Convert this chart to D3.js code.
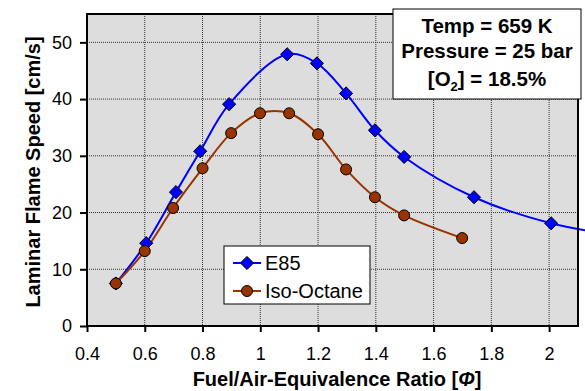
<!DOCTYPE html>
<html>
<head>
<meta charset="utf-8">
<script src="https://cdn.jsdelivr.net/npm/d3@7"></script>
<style>
  body { margin: 0; background: #fff; }
  svg text { font-family: Arial, "Liberation Sans", sans-serif; }
</style>
</head>
<body>
<div id="chart"></div>
<script>
// chart data
const e85Phi    = [0.5, 0.605, 0.708, 0.792, 0.892, 1.093, 1.196, 1.297, 1.397, 1.498, 1.74, 2.007, 2.25];
const e85Speed  = [7.5, 14.6, 23.6, 30.8, 39.1, 47.9, 46.3, 41.0, 34.5, 29.8, 22.7, 18.1, 15.9];
const isoPhi    = [0.5, 0.6, 0.698, 0.8, 0.899, 0.999, 1.1, 1.2, 1.297, 1.397, 1.498, 1.699];
const isoSpeed  = [7.5, 13.2, 20.8, 27.8, 34.0, 37.5, 37.5, 33.8, 27.6, 22.7, 19.5, 15.5];
const xTicks    = [0.4, 0.6, 0.8, 1, 1.2, 1.4, 1.6, 1.8, 2];
const yTicks    = [0, 10, 20, 30, 40, 50];
const seriesNames = ['E85', 'Iso-Octane'];
const infoLines = ['Temp = 659 K', 'Pressure = 25 bar'];

const width = 585, height = 391;
const margin = {top: 14, right: 6, bottom: 65, left: 87};

const svg = d3.select('#chart').append('svg')
    .attr('width', width)
    .attr('height', height);

// x runs to 2.1 at the frame, the E85 line keeps going past it
const x = d3.scaleLinear().domain([0.4, 2.1]).range([0, 578 - margin.left]);
const y = d3.scaleLinear().domain([0, 55]).range([326 - margin.top, 0]);

const g = svg.append('g').attr('transform', `translate(${margin.left},${margin.top})`);
const x1 = x(2.1);

// plot background
g.append('rect')
    .attr('x', 0).attr('y', 0)
    .attr('width', x1).attr('height', y(0))
    .attr('fill', '#dddddd');

// dotted grid
g.append('g').selectAll('line')
    .data(xTicks.slice(1))
    .enter().append('line')
    .attr('x1', d => x(d)).attr('x2', d => x(d))
    .attr('y1', 0).attr('y2', y(0))
    .attr('stroke', '#333').attr('stroke-width', 1)
    .attr('stroke-dasharray', '1,1');
g.append('g').selectAll('line')
    .data(yTicks.slice(1))
    .enter().append('line')
    .attr('x1', 0).attr('x2', x1)
    .attr('y1', d => y(d)).attr('y2', d => y(d))
    .attr('stroke', '#333').attr('stroke-width', 1)
    .attr('stroke-dasharray', '1,1');

// axes
const xAxis = d3.axisBottom(x).tickValues(xTicks).tickSize(6).tickSizeOuter(0)
    .tickFormat(d3.format('~g'));
const yAxis = d3.axisLeft(y).tickValues(yTicks).tickSize(7).tickSizeOuter(0);

const gx = g.append('g').attr('transform', `translate(0,${y(0)})`).call(xAxis);
const gy = g.append('g').call(yAxis);
[gx, gy].forEach(a => {
    a.select('.domain').remove();
    a.selectAll('line').attr('stroke', '#000').attr('stroke-width', 2);
    a.selectAll('text').attr('font-size', 18).attr('fill', '#000');
});
gx.selectAll('text').attr('y', 34).attr('dy', 0);
gy.selectAll('text').attr('x', -15);

// series lines
const line = d3.line()
    .x(d => x(d[0]))
    .y(d => y(d[1]))
    .curve(d3.curveCatmullRom.alpha(0.5));

const e85 = e85Phi.map((p, i) => [p, e85Speed[i]]);
const iso = isoPhi.map((p, i) => [p, isoSpeed[i]]);

g.append('path').datum(e85)
    .attr('d', line)
    .attr('fill', 'none').attr('stroke', '#0000ff').attr('stroke-width', 2);
g.append('path').datum(iso)
    .attr('d', line)
    .attr('fill', 'none').attr('stroke', '#993300').attr('stroke-width', 2);

// frame
g.append('rect')
    .attr('x', 0).attr('y', 0)
    .attr('width', x1).attr('height', y(0))
    .attr('fill', 'none').attr('stroke', '#000').attr('stroke-width', 2);

// markers
const diamond = d3.symbol().type(d3.symbolDiamond2).size(110);
g.append('g').selectAll('path')
    .data(e85.filter(d => d[0] <= 2.1))
    .enter().append('path')
    .attr('d', diamond)
    .attr('transform', d => `translate(${x(d[0])},${y(d[1])})`)
    .attr('fill', '#0000ff').attr('stroke', '#000').attr('stroke-width', 1);
g.append('g').selectAll('circle')
    .data(iso)
    .enter().append('circle')
    .attr('cx', d => x(d[0])).attr('cy', d => y(d[1]))
    .attr('r', 5.5)
    .attr('fill', '#993300').attr('stroke', '#000').attr('stroke-width', 1);

// legend
const legend = svg.append('g').attr('transform', 'translate(224,246)');
legend.append('rect')
    .attr('width', 146).attr('height', 58)
    .attr('fill', '#fff').attr('stroke', '#000').attr('stroke-width', 1);
const legendItems = legend.selectAll('.item')
    .data(seriesNames)
    .enter().append('g')
    .attr('class', 'item')
    .attr('transform', (d, i) => `translate(0,${17 + i * 28})`);
legendItems.append('line')
    .attr('x1', 9).attr('x2', 37)
    .attr('stroke', (d, i) => i === 0 ? '#0000ff' : '#993300')
    .attr('stroke-width', 2);
legendItems.each(function(d, i) {
    const it = d3.select(this);
    if (i === 0) {
        it.append('path').attr('d', diamond).attr('transform', 'translate(23,0)')
            .attr('fill', '#0000ff').attr('stroke', '#000');
    } else {
        it.append('circle').attr('cx', 23).attr('r', 5.5)
            .attr('fill', '#993300').attr('stroke', '#000');
    }
});
legendItems.append('text')
    .attr('x', 41).attr('dy', '0.36em')
    .attr('font-size', 20)
    .text(d => d);

// condition box
const info = svg.append('g').attr('transform', 'translate(393,9)');
info.append('rect')
    .attr('width', 188).attr('height', 90)
    .attr('fill', '#fff').attr('stroke', '#000').attr('stroke-width', 1);
info.selectAll('.line')
    .data(infoLines)
    .enter().append('text')
    .attr('x', 94).attr('y', (d, i) => 24 + i * 25)
    .attr('text-anchor', 'middle')
    .attr('font-size', 20.5).attr('font-weight', 'bold')
    .text(d => d);
const o2 = info.append('text')
    .attr('x', 94).attr('y', 77)
    .attr('text-anchor', 'middle')
    .attr('font-size', 20.5).attr('font-weight', 'bold');
o2.append('tspan').text('[O');
o2.append('tspan').attr('font-size', 13).attr('dy', 5).text('2');
o2.append('tspan').attr('dy', -5).text('] = 18.5%');

// axis titles
svg.append('text')
    .attr('transform', `translate(40,${margin.top + y(27.5) + 2}) rotate(-90)`)
    .attr('text-anchor', 'middle')
    .attr('font-size', 20).attr('font-weight', 'bold')
    .text('Laminar Flame Speed [cm/s]');
const xl = svg.append('text')
    .attr('x', 337).attr('y', 386)
    .attr('text-anchor', 'middle')
    .attr('font-size', 20).attr('font-weight', 'bold');
xl.append('tspan').text('Fuel/Air-Equivalence Ratio [');
xl.append('tspan').attr('font-style', 'italic').text('Φ');
xl.append('tspan').text(']');
</script>
</body>
</html>
